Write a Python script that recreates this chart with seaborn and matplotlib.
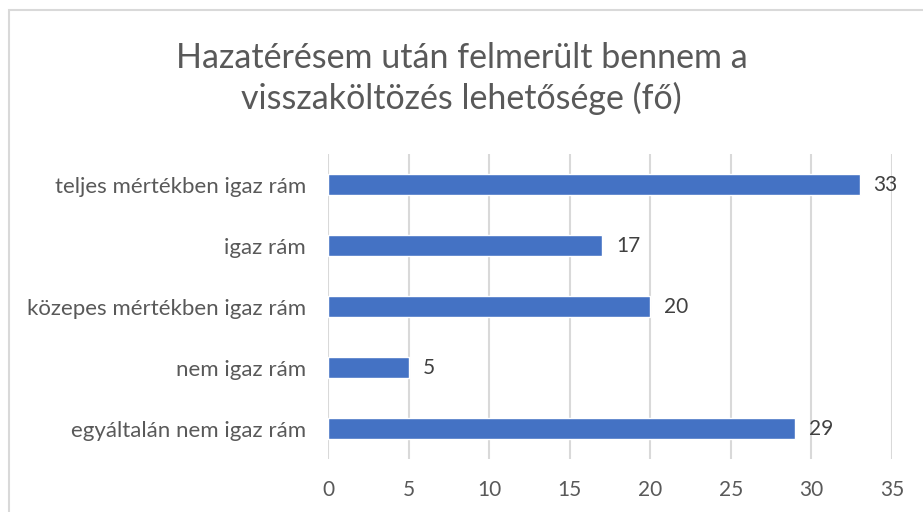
import matplotlib
matplotlib.use('Agg')
import matplotlib.pyplot as plt
import seaborn as sns
import pandas as pd
from matplotlib.patches import Rectangle

categories = ['teljes mértékben igaz rám', 'igaz rám', 'közepes mértékben igaz rám',
              'nem igaz rám', 'egyáltalán nem igaz rám']
counts = [33, 17, 20, 5, 29]
x_ticks = [0, 5, 10, 15, 20, 25, 30, 35]
title = 'Hazatérésem után felmerült bennem a\nvisszaköltözés lehetősége (fő)'

sns.set_style('white')
plt.rcParams['font.family'] = ['Lato', 'DejaVu Sans']

df = pd.DataFrame({'category': categories, 'count': counts})

fig = plt.figure(figsize=(9.23, 5.12), dpi=100)
ax = fig.add_axes([0.3554, 0.1035, 0.611, 0.5955])

sns.barplot(data=df, y='category', x='count', order=categories, color='#4472C4',
            width=0.34, saturation=1, ax=ax)

ax.set_xlim(0, 35)
ax.set_xticks(x_ticks)
ax.xaxis.grid(True, color='#d9d9d9', linewidth=1.5)
ax.set_axisbelow(True)
for s in ax.spines.values():
    s.set_visible(False)
ax.set_xlabel('')
ax.set_ylabel('')
ax.tick_params(axis='x', length=0, labelsize=15, colors='#595959', pad=15)
ax.tick_params(axis='y', length=0, labelsize=16, colors='#595959', pad=16)

for cont in ax.containers:
    ax.bar_label(cont, padding=10, fontsize=15, color='#404040')

fig.text(0.5, 0.847, title, ha='center', va='center', fontsize=24.5, color='#595959',
         linespacing=1.3)

fig.patches.append(Rectangle((9 / 923, -0.05), 1.1, 1 - 10 / 512 + 0.05,
                             transform=fig.transFigure, fill=False,
                             edgecolor='#d9d9d9', linewidth=1.5))

fig.savefig('out.png', dpi=100)
